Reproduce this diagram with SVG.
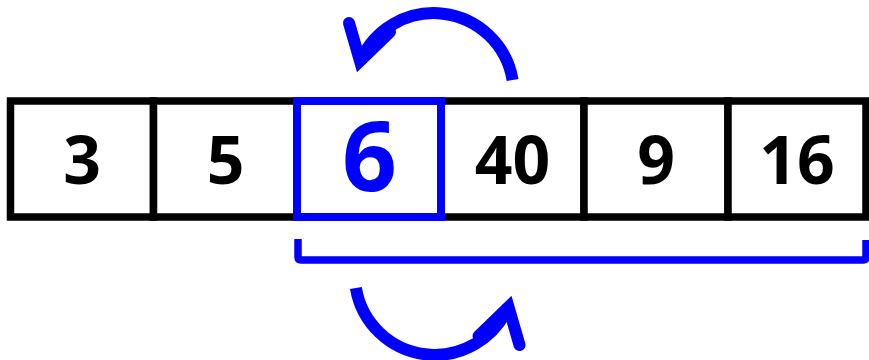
<svg xmlns="http://www.w3.org/2000/svg" width="869" height="360" viewBox="0 0 869 360">
<style>
.cell{fill:#fff;stroke:#000;stroke-width:7.5}
.num{font-family:"Open Sans","DejaVu Sans",sans-serif;font-weight:700;font-size:66px;fill:#000;text-anchor:middle}
.big{font-size:96px;fill:#0000ff}
.blue{fill:none;stroke:#0000ff}
</style>
<rect width="869" height="360" fill="#fff"/>
<g id="cells">
<g id="c0"><rect class="cell" x="10.5" y="101" width="143" height="116"/><text class="num" x="82" y="184">3</text></g>
<g id="c1"><rect class="cell" x="153.5" y="101" width="143.5" height="116"/><text class="num" x="225.5" y="184">5</text></g>
<g id="c3"><rect class="cell" x="441" y="101" width="143" height="116"/><text class="num" x="512.5" y="184">40</text></g>
<g id="c4"><rect class="cell" x="584" y="101" width="144" height="116"/><text class="num" x="656" y="184">9</text></g>
<g id="c5"><rect class="cell" x="728" y="101" width="138" height="116"/><text class="num" x="797" y="184">16</text></g>
<g id="c2"><rect class="blue" x="297" y="101" width="144" height="116" stroke-width="8" fill="#fff" style="fill:#fff"/><text class="num big" x="369.5" y="190.5">6</text></g>
</g>
<g id="connectors">
<path class="blue" stroke-width="7.5" stroke-linejoin="round" d="M298,239 V257 Q298,260 301,260 H863 Q866,260 866,257 V240"/>
<g id="arrow-top">
<path class="blue" stroke-width="12" d="M512.6,80 A80,80 0 0 0 360,62"/>
<polyline class="blue" stroke-width="12" stroke-linecap="round" stroke-linejoin="miter" stroke-miterlimit="10" points="349,23 360,61 390,32"/>
</g>
<g id="arrow-bottom" transform="rotate(180 434.25 184)">
<path class="blue" stroke-width="12" d="M512.6,80 A80,80 0 0 0 360,62"/>
<polyline class="blue" stroke-width="12" stroke-linecap="round" stroke-linejoin="miter" stroke-miterlimit="10" points="349,23 360,61 390,32"/>
</g>
</g>
</svg>
